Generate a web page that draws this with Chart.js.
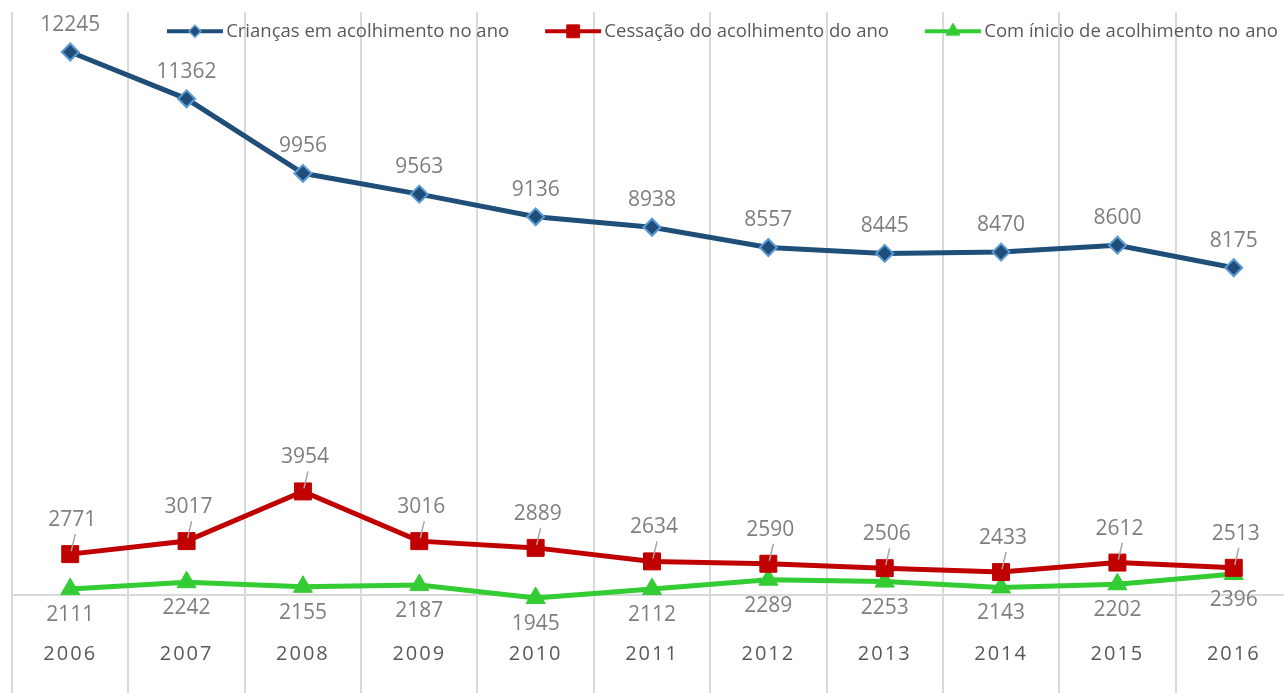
<!DOCTYPE html>
<html>
<head>
<meta charset="utf-8">
<script src="https://cdn.jsdelivr.net/npm/chart.js@4.4.0/dist/chart.umd.min.js"></script>
<style>
  html, body { margin: 0; padding: 0; background: #fff; overflow: hidden; }
  /* plot runs a bit past the right/bottom edge, like the original crop */
  #wrap { position: absolute; left: 0; top: 0; width: 1304px; height: 709px; }
</style>
</head>
<body>
<div id="wrap"><canvas id="chart"></canvas></div>
<script>
const years = ['2006', '2007', '2008', '2009', '2010', '2011', '2012', '2013', '2014', '2015', '2016'];
const criancas = [12245, 11362, 9956, 9563, 9136, 8938, 8557, 8445, 8470, 8600, 8175];
const cessacao = [2771, 3017, 3954, 3016, 2889, 2634, 2590, 2506, 2433, 2612, 2513];
const inicio = [2111, 2242, 2155, 2187, 1945, 2112, 2289, 2253, 2143, 2202, 2396];
const seriesNames = ['Crianças em acolhimento no ano', 'Cessação do acolhimento do ano', 'Com ínicio de acolhimento no ano'];

const FONT = "'Open Sans', sans-serif";
const BLUE = '#1f4e79', RED = '#c00000', GREEN = '#33cc33';
const LEG_PAD = 36;

// legend icon: line with the marker in the middle (Excel style)
function legendIcon(lineColor, fill, border, marker) {
  const c = document.createElement('canvas');
  c.width = 64; c.height = 22;
  const ctx = c.getContext('2d');
  ctx.strokeStyle = lineColor;
  ctx.lineWidth = 4;
  ctx.beginPath(); ctx.moveTo(7, 11); ctx.lineTo(63, 11); ctx.stroke();
  ctx.fillStyle = fill;
  ctx.strokeStyle = border;
  ctx.lineWidth = marker.borderWidth;
  Chart.helpers.drawPoint(ctx, marker, 35, 11);
  return c;
}

const icons = [
  legendIcon(BLUE, BLUE, '#5b9bd5', { pointStyle: 'rectRot', radius: 6, rotation: 0, borderWidth: 1.5 }),
  legendIcon(RED, RED, RED, { pointStyle: 'rect', radius: 9, rotation: 0, borderWidth: 1 }),
  legendIcon(GREEN, GREEN, GREEN, { pointStyle: 'triangle', radius: 8, rotation: 0, borderWidth: 1 })
];

// value labels next to each point + letter spacing for the year ticks
const valueLabels = {
  id: 'valueLabels',
  afterDatasetsDraw(chart, args, opts) {
    const ctx = chart.ctx;
    ctx.save();
    ctx.font = '21px ' + FONT;
    ctx.fillStyle = '#7f7f7f';
    ctx.textAlign = 'center';
    ctx.textBaseline = 'middle';
    chart.data.datasets.forEach((ds, i) => {
      const meta = chart.getDatasetMeta(i);
      const off = opts.offsets[i];
      meta.data.forEach((pt, j) => {
        if (off.leader) {
          ctx.strokeStyle = '#a6a6a6';
          ctx.lineWidth = 1.5;
          ctx.beginPath();
          ctx.moveTo(pt.x + 1, pt.y - 3);
          ctx.lineTo(pt.x + 5, pt.y - 20);
          ctx.stroke();
        }
        ctx.fillText(String(ds.data[j]), pt.x + off.dx, pt.y + off.dy);
      });
    });
    ctx.restore();
    // ticks are on z:1, drawn right after this hook
    ctx.letterSpacing = '2px';
  },
  afterDraw(chart) {
    chart.ctx.letterSpacing = '0px';
  }
};

// let the legend sit over the plot area instead of taking space
const legendOverlay = {
  id: 'legendOverlay',
  beforeLayout(chart) {
    const lg = chart.legend;
    if (lg && !lg._overlay) {
      const fit = lg.fit;
      lg.fit = function () { fit.call(this); this._h = this.height; this.height = 0; };
      lg._overlay = true;
    }
  },
  afterLayout(chart) {
    const lg = chart.legend;
    lg.top = 31 - 9 - LEG_PAD;
    lg.height = lg._h;
    lg.bottom = lg.top + lg._h;
    lg.right += 20;
  }
};

new Chart(document.getElementById('chart'), {
  type: 'line',
  data: {
    labels: years,
    datasets: [
      {
        label: seriesNames[0],
        data: criancas,
        borderColor: BLUE,
        backgroundColor: BLUE,
        borderWidth: 5,
        pointStyle: 'rectRot',
        pointRadius: 8.5,
        pointBorderWidth: 2,
        pointBackgroundColor: BLUE,
        pointBorderColor: '#5b9bd5'
      },
      {
        label: seriesNames[1],
        data: cessacao,
        borderColor: RED,
        backgroundColor: RED,
        borderWidth: 5,
        pointStyle: 'rect',
        pointRadius: 12,
        pointBorderWidth: 1,
        pointBackgroundColor: RED,
        pointBorderColor: RED
      },
      {
        label: seriesNames[2],
        data: inicio,
        borderColor: GREEN,
        backgroundColor: GREEN,
        borderWidth: 5,
        pointStyle: 'triangle',
        pointRadius: 11,
        pointBorderWidth: 1,
        pointBackgroundColor: GREEN,
        pointBorderColor: GREEN
      }
    ]
  },
  options: {
    responsive: true,
    maintainAspectRatio: false,
    animation: false,
    layout: { autoPadding: false, padding: { left: 10, right: 10, top: 12, bottom: 8 } },
    plugins: {
      legend: {
        position: 'top',
        align: 'end',
        labels: {
          usePointStyle: true,
          pointStyleWidth: 50,
          boxHeight: 18,
          padding: LEG_PAD,
          color: '#595959',
          font: { family: FONT, size: 18.5 },
          generateLabels(chart) {
            return chart.data.datasets.map((ds, i) => ({
              text: ds.label,
              pointStyle: icons[i],
              fillStyle: ds.borderColor,
              strokeStyle: ds.borderColor,
              lineWidth: 0,
              fontColor: '#595959',
              datasetIndex: i,
              hidden: false
            }));
          }
        }
      },
      tooltip: { enabled: false },
      valueLabels: {
        offsets: [
          { dx: 0, dy: -27 },
          { dx: 2, dy: -34, leader: true },
          { dx: 0, dy: 26 }
        ]
      }
    },
    scales: {
      x: {
        position: { y: 2000 },
        offset: true,
        grid: { display: true, color: '#d9d9d9', lineWidth: 2, offset: true, drawTicks: false },
        border: { display: true, color: '#d9d9d9', width: 2 },
        ticks: {
          z: 1,
          padding: 47,
          maxRotation: 0,
          autoSkip: false,
          color: '#595959',
          font: { family: FONT, size: 20 }
        }
      },
      y: {
        display: false,
        min: 0,
        max: 13000
      }
    }
  },
  plugins: [valueLabels, legendOverlay]
});
</script>
</body>
</html>
